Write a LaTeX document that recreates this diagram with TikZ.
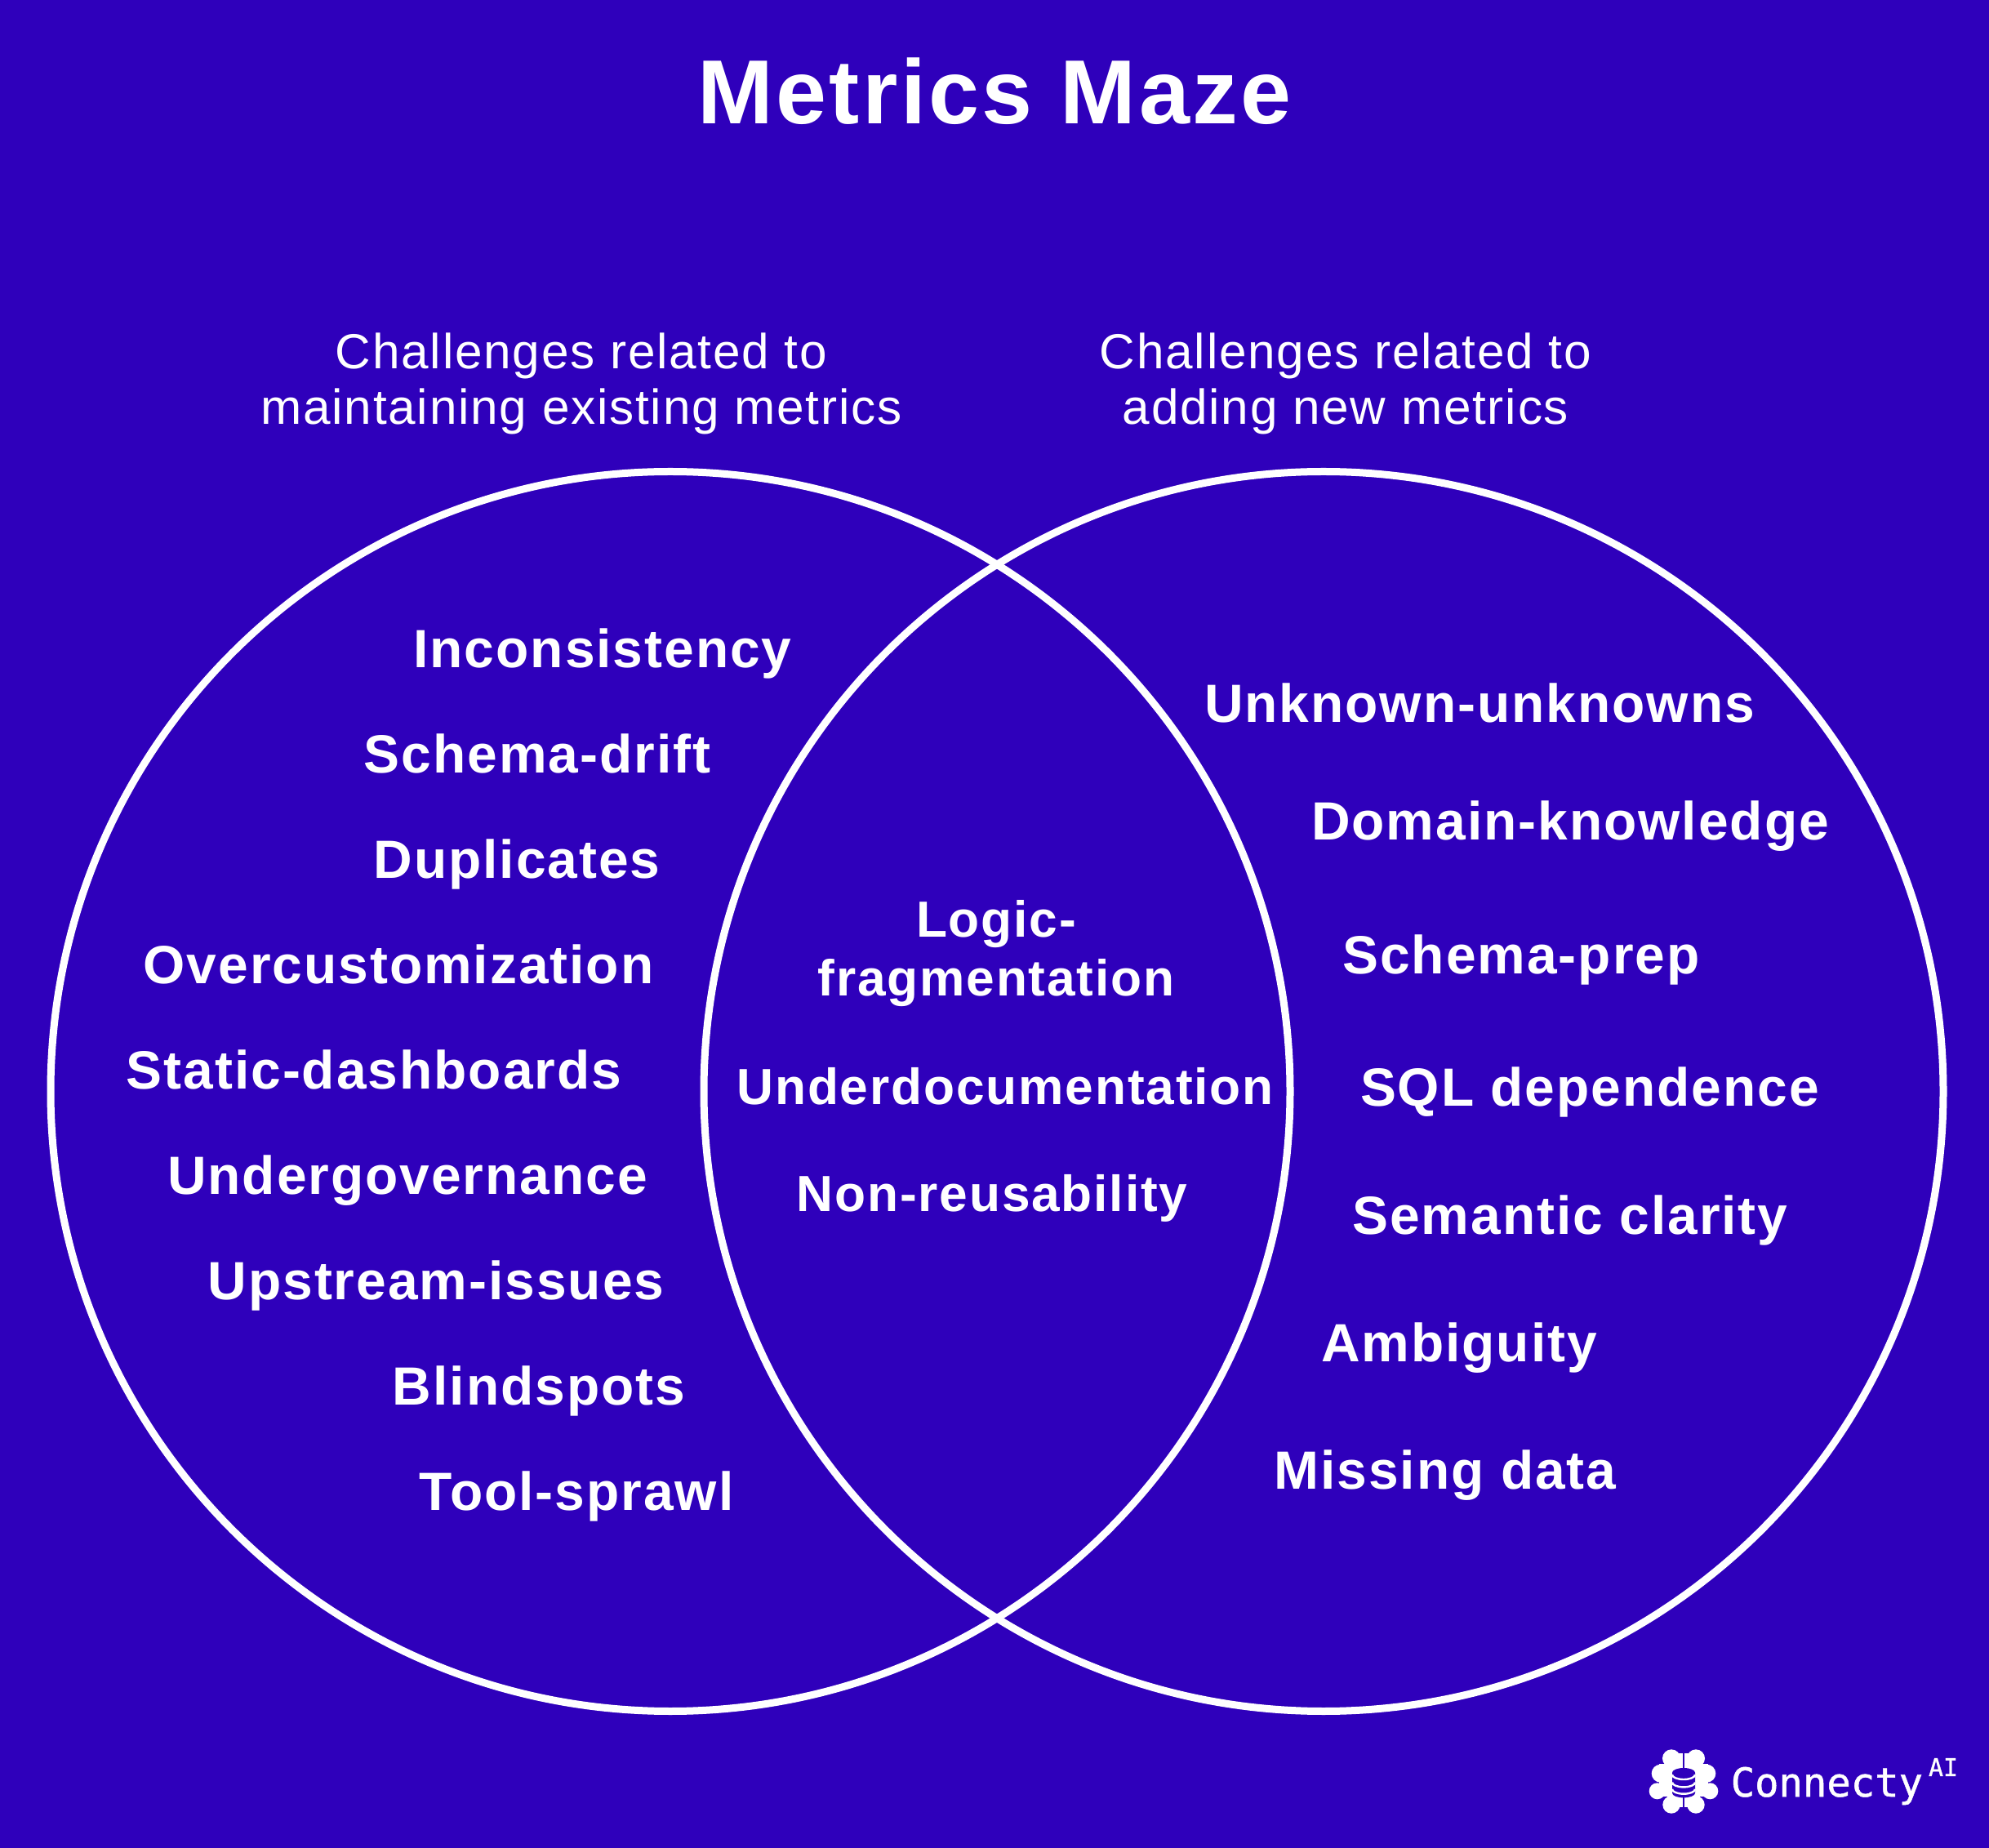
\documentclass[tikz,border=0pt]{standalone}
\usepackage{fontspec}
\setmainfont{Liberation Sans}
\newfontfamily\itemfont[LetterSpace=3.0]{Liberation Sans}
\newfontfamily\logofont[FakeBold=1]{DejaVu Sans Mono}
\usetikzlibrary{positioning}
\definecolor{cBack}{RGB}{47,0,187}
\tikzset{
  basetext/.style={align=center,text=white,inner sep=0pt},
  titlenode/.style={basetext,font=\fontsize{31.7}{38}\selectfont\itemfont\bfseries},
  subnode/.style={basetext,font=\fontsize{17.15}{19.4}\selectfont\itemfont},
  itemnode/.style={basetext,font=\fontsize{18.75}{20.5}\selectfont\itemfont\bfseries,
                   text height=1.45ex,text depth=0.1ex,yshift=-0.12cm},
  midnode/.style={itemnode,font=\fontsize{17.7}{20.5}\selectfont\itemfont\bfseries},
  vennring/.style={circle,draw=white,line width=0.09cm,minimum size=15.18cm,
                   inner sep=0pt,outer sep=0pt},
  logotext/.style={basetext,font=\fontsize{13.9}{16}\selectfont\logofont}
}
\begin{document}
\begin{tikzpicture}
  \useasboundingbox (0,0) rectangle (24.36,22.62);
  \fill[cBack] (-0.2,-0.2) rectangle (24.56,22.82);

  % title and captions
  \node[titlenode] (title) at (12.18,21.50) {Metrics Maze};
  \node[subnode] (leftcap) at (7.12,17.92) {Challenges related to\\maintaining existing metrics};
  \node[subnode] (rightcap) at (16.48,17.92) {Challenges related to\\adding new metrics};

  % the two circles
  \node[vennring] (leftring) at (8.21,9.255) {};
  \node[vennring] (rightring) at (16.21,9.255) {};

  % left side
  \node[itemnode] (inconsistency) at (7.38,14.69) {Inconsistency};
  \node[itemnode] (schemadrift) at (6.58,13.40) {Schema-drift};
  \node[itemnode] (duplicates) at (6.33,12.11) {Duplicates};
  \node[itemnode] (overcustom) at (4.88,10.82) {Overcustomization};
  \node[itemnode] (staticdash) at (4.58,9.53) {Static-dashboards};
  \node[itemnode] (undergov) at (4.99,8.24) {Undergovernance};
  \node[itemnode] (upstream) at (5.34,6.95) {Upstream-issues};
  \node[itemnode] (blindspots) at (6.60,5.66) {Blindspots};
  \node[itemnode] (toolsprawl) at (7.06,4.37) {Tool-sprawl};

  % overlap
  \node[basetext,font=\fontsize{17.7}{20.5}\selectfont\itemfont\bfseries] (logicfrag) at (12.20,10.94) {Logic-\\fragmentation};
  \node[midnode] (underdoc) at (12.31,9.34) {Underdocumentation};
  \node[midnode] (nonreuse) at (12.15,8.03) {Non-reusability};

  % right side
  \node[itemnode] (unknown) at (18.12,14.02) {Unknown-unknowns};
  \node[itemnode] (domain) at (19.23,12.58) {Domain-knowledge};
  \node[itemnode] (schemaprep) at (18.63,10.94) {Schema-prep};
  \node[itemnode] (sqldep) at (19.47,9.32) {SQL dependence};
  \node[itemnode] (semantic) at (19.23,7.75) {Semantic clarity};
  \node[itemnode] (ambiguity) at (17.87,6.19) {Ambiguity};
  \node[itemnode] (missing) at (17.70,4.63) {Missing data};

  % logo
  \begin{scope}[shift={(20.62,0.82)}]
    \fill[white] (-0.15,0.267) circle (0.11);
    \fill[white] (0.15,0.267) circle (0.11);
    \fill[white] (-0.283,0.083) circle (0.11);
    \fill[white] (0.283,0.083) circle (0.11);
    \fill[white] (-0.323,-0.133) circle (0.10);
    \fill[white] (0.323,-0.133) circle (0.10);
    \fill[white] (-0.15,-0.30) circle (0.107);
    \fill[white] (0.15,-0.30) circle (0.107);
    \fill[white] (-0.30,-0.20) rectangle (0.30,0.20);
    \fill[white] (-0.20,-0.33) rectangle (0.20,0.33);
    \fill[cBack] (-0.012,-0.42) rectangle (0.012,0.40);
    \fill[cBack] (-0.14,0.093) arc (180:0:0.14 and 0.057) -- (0.14,-0.157)
      arc (0:-180:0.14 and 0.057) -- cycle;
    \draw[white,line width=0.024cm] (-0.14,0.067) arc (180:360:0.14 and 0.057)
      (-0.14,-0.027) arc (180:360:0.14 and 0.057)
      (-0.14,-0.11) arc (180:360:0.14 and 0.057);
  \end{scope}
  \node[logotext,anchor=base west] (logoname) at (21.19,0.62) {Connecty};
  \node[logotext,font=\fontsize{8.5}{10}\selectfont\logofont] (logoai) at (23.80,0.98) {AI};
\end{tikzpicture}
\end{document}
